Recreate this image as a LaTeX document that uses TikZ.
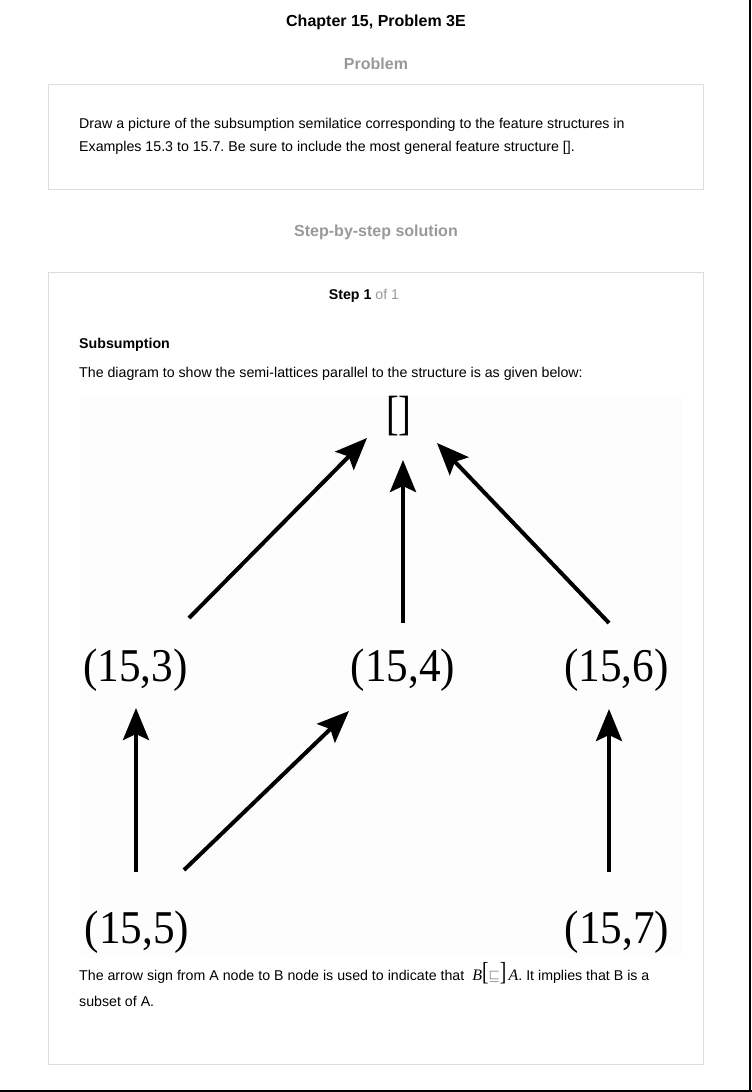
\documentclass[tikz,border=0pt]{standalone}
\usepackage{fontspec}
\setmainfont{Liberation Sans}
\newfontfamily\tnr{Liberation Serif}
\usetikzlibrary{arrows.meta}
\frenchspacing
\definecolor{boxgray}{HTML}{DDDDDD}
\definecolor{headgray}{HTML}{999999}
\definecolor{diagbg}{HTML}{FDFDFD}
\newcommand{\bigbrk}[1]{\scalebox{0.75}[1]{\tnr\fontsize{26}{26}\selectfont #1}}
\tikzset{
  txt/.style={inner sep=0pt, anchor=base west, font=\fontsize{14.2}{16}\selectfont},
  head/.style={inner sep=0pt, anchor=base, font=\bfseries\fontsize{16}{19}\selectfont},
  panel/.style={draw=boxgray, line width=1pt},
  lbl/.style={inner sep=0pt, anchor=base, font=\tnr\fontsize{47}{50}\selectfont},
  arr/.style={line width=4pt, -{Stealth[length=32pt,width=26pt,inset=6pt]}},
}
\begin{document}
\begin{tikzpicture}[x=1pt,y=-1pt]
\useasboundingbox (0,0) rectangle (752,1092);
\fill[white] (0,0) rectangle (752,1092);
% page frame lines
\draw[black, line width=1.6pt] (750.2,0) -- (750.2,1092);
\draw[black, line width=1.6pt] (0,1091.2) -- (752,1091.2);
% title
\node[head] (title) at (376,27) {Chapter 15, Problem 3E};
\node[head, text=headgray] (prob) at (376,69) {Problem};
% problem box
\draw[panel] (48.5,84.5) rectangle (703.5,189.5);
\node[txt] (p1) at (79,128) {Draw a picture of the subsumption semilatice corresponding to the feature structures in};
\node[txt] (p2) at (79,151) {Examples 15.3 to 15.7. Be sure to include the most general feature structure [].};
\node[head, text=headgray] (sbs) at (376,236) {Step-by-step solution};
% solution box
\draw[panel] (48.5,272.5) rectangle (703.5,1064.5);
\node[txt, anchor=base] (step) at (364,299) {\textbf{Step 1} \textcolor{headgray}{of 1}};
\node[txt, font=\bfseries\fontsize{14.2}{16}\selectfont] (sub) at (79,348) {Subsumption};
\node[txt] (intro) at (79,377) {The diagram to show the semi-lattices parallel to the structure is as given below:};
% diagram
\fill[diagbg] (80,395) rectangle (682,958);
\node[lbl, font=\tnr\fontsize{48}{50}\selectfont] (top) at (398.5,429.5) {\scalebox{0.8}[1]{[\kern-0.02em]}};
\node[lbl] (n3) at (135.5,681) {\scalebox{0.92}[1]{(15,3)}};
\node[lbl] (n4) at (403,681) {\scalebox{0.92}[1]{(15,4)}};
\node[lbl] (n6) at (616.5,681) {\scalebox{0.92}[1]{(15,6)}};
\node[lbl] (n5) at (137,943) {\scalebox{0.92}[1]{(15,5)}};
\node[lbl] (n7) at (617,943) {\scalebox{0.92}[1]{(15,7)}};
\coordinate (t3) at (189,618);
\coordinate (h3) at (367,438);
\coordinate (t4) at (403,623);
\coordinate (h4) at (403,460);
\coordinate (t6) at (609,623);
\coordinate (h6) at (437,443);
\coordinate (t53) at (136,872);
\coordinate (h53) at (136,708);
\coordinate (t54) at (184,870);
\coordinate (h54) at (349,711);
\coordinate (t7) at (609,872);
\coordinate (h7) at (609,709);
\draw[arr] (t3) -- (h3);
\draw[arr] (t4) -- (h4);
\draw[arr] (t6) -- (h6);
\draw[arr] (t53) -- (h53);
\draw[arr] (t54) -- (h54);
\draw[arr] (t7) -- (h7);
% closing text
\node[txt] (c1) at (79,980) {The arrow sign from A node to B node is used to indicate that\ \ {\tnr\itshape\fontsize{16}{16}\selectfont B}\bigbrk{[}\textcolor{black!65}{$\sqsubseteq$}\bigbrk{]}\,{\tnr\itshape\fontsize{16}{16}\selectfont A}. It implies that B is a};
\node[txt] (c2) at (79,1006) {subset of A.};
\end{tikzpicture}
\end{document}
